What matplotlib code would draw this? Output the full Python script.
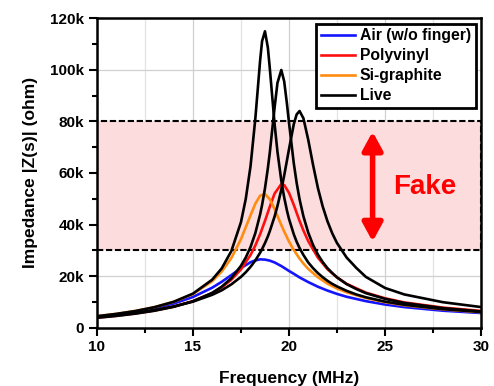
import matplotlib
matplotlib.use("Agg")
import matplotlib.pyplot as plt
from matplotlib.ticker import MultipleLocator, FuncFormatter

plt.rcParams["font.family"] = ["Liberation Sans", "DejaVu Sans"]
plt.rcParams["font.weight"] = "bold"

# frequency in MHz, impedance in k-ohm
freq = [10, 11, 12, 13, 14, 15, 16, 16.5, 17, 17.5, 18, 18.25, 18.5, 18.75,
        19, 19.25, 19.6, 19.75, 20, 20.25, 20.55, 20.75, 21, 21.5, 22, 22.5,
        23, 24, 25, 26, 28, 30]

air = [4.30, 5.14, 6.19, 7.55, 9.36, 11.9, 15.5, 17.8, 20.4, 23.1, 25.4, 26.1,
       26.5, 26.4, 26.0, 25.3, 23.9, 23.2, 22.0, 20.9, 19.5, 18.7, 17.7, 15.9,
       14.4, 13.1, 12.0, 10.3, 9.0, 8.0, 6.6, 5.7]
polyvinyl = [3.90, 4.63, 5.52, 6.66, 8.16, 10.3, 13.4, 15.6, 18.6, 22.6, 28.2,
             31.9, 36.3, 41.4, 46.9, 52.0, 55.7, 55.3, 52.3, 47.6, 41.4, 37.7,
             33.6, 27.2, 22.7, 19.5, 17.0, 13.6, 11.4, 9.8, 7.8, 6.5]
si_graphite = [4.46, 5.35, 6.47, 7.96, 10.0, 13.05, 18.0, 21.8, 27.0, 34.3,
               43.6, 48.1, 51.2, 51.8, 49.8, 46.0, 39.8, 37.3, 33.4, 30.1, 26.8,
               24.9, 22.8, 19.6, 17.1, 15.2, 13.7, 11.5, 9.9, 8.7, 7.1, 6.0]

# the live-finger peaks are sharp, so they are read at more frequencies
freq_live = [10, 11, 12, 13, 14, 15, 16, 16.5, 17, 17.5, 17.75, 18, 18.25,
             18.5, 18.6, 18.75, 18.9, 19, 19.25, 19.4, 19.6, 19.75, 19.9, 20,
             20.25, 20.4, 20.55, 20.75, 21, 21.25, 21.5, 21.75, 22, 22.25, 22.5,
             23, 23.5, 24, 25, 26, 28, 30]
live_1 = [4.45, 5.34, 6.46, 7.96, 10.05, 13.2, 18.6, 23.0, 29.7, 40.9, 49.9,
          62.7, 81.2, 103.8, 111.1, 114.9, 108.6, 100.7, 79.0, 68.2, 57.0, 50.5,
          45.2, 42.2, 36.2, 33.3, 30.9, 28.2, 25.3, 23.1, 21.2, 19.6, 18.2,
          17.0, 16.0, 14.3, 12.9, 11.8, 10.1, 8.9, 7.2, 6.1]
live_2 = [3.84, 4.56, 5.45, 6.58, 8.10, 10.25, 13.5, 15.9, 19.2, 24.0, 27.2,
          31.3, 36.7, 44.0, 47.6, 54.0, 61.8, 67.8, 85.3, 94.9, 99.9, 95.5,
          86.4, 79.5, 63.7, 56.1, 49.8, 43.2, 36.9, 32.1, 28.4, 25.5, 23.1,
          21.2, 19.5, 16.9, 15.0, 13.4, 11.2, 9.6, 7.6, 6.3]
live_3 = [4.15, 4.88, 5.76, 6.85, 8.25, 10.1, 12.75, 14.5, 16.8, 19.7, 21.5,
          23.6, 26.1, 29.1, 30.5, 32.8, 35.4, 37.4, 43.1, 47.2, 53.5, 59.0,
          65.1, 69.2, 78.9, 82.7, 84.0, 81.2, 72.9, 63.2, 54.3, 47.1, 41.3,
          36.6, 32.8, 27.2, 23.2, 19.7, 15.4, 12.9, 9.9, 8.0]

fake_band = (30, 80)

fig = plt.figure(figsize=(4.94, 3.86), dpi=100)
ax = fig.add_axes([0.196, 0.151, 0.778, 0.802])

ax.axhspan(*fake_band, facecolor="#fcdcdd", edgecolor="black",
           linestyle=(0, (3, 1.3)), linewidth=1.5, zorder=1)

lw = 1.9
ax.plot(freq, air, color="#1414ff", lw=lw, label="Air (w/o finger)", zorder=3)
ax.plot(freq, polyvinyl, color="#ff1010", lw=lw, label="Polyvinyl", zorder=3)
ax.plot(freq, si_graphite, color="#ff8c10", lw=lw, label="Si-graphite", zorder=3)
ax.plot(freq_live, live_1, color="black", lw=lw, label="Live", zorder=4)
ax.plot(freq_live, live_2, color="black", lw=lw, zorder=4)
ax.plot(freq_live, live_3, color="black", lw=lw, zorder=4)

ax.annotate("", xy=(24.35, 76), xytext=(24.35, 33.4),
            arrowprops=dict(arrowstyle="<|-|>,head_length=0.55,head_width=0.3",
                            color="#ff0000", lw=4, mutation_scale=20,
                            shrinkA=0, shrinkB=0), zorder=5)
ax.text(27.05, 54.6, "Fake", color="#ff0000", fontsize=20, fontweight="bold",
        ha="center", va="center", zorder=5)

ax.set_xlim(10, 30)
ax.set_ylim(0, 120)
ax.xaxis.set_major_locator(MultipleLocator(5))
ax.xaxis.set_minor_locator(MultipleLocator(2.5))
ax.yaxis.set_major_locator(MultipleLocator(20))
ax.yaxis.set_minor_locator(MultipleLocator(10))
ax.yaxis.set_major_formatter(FuncFormatter(lambda v, p: "0" if v == 0 else f"{v:.0f}k"))

ax.grid(which="major", color="#d0d0d0", lw=0.9, zorder=0)
ax.grid(which="minor", axis="x", color="#e4e4e4", lw=0.9, zorder=0)
ax.set_axisbelow(True)

ax.tick_params(which="major", direction="out", length=6, width=1.5,
               labelsize=11, pad=3)
ax.tick_params(which="minor", direction="out", length=3.5, width=1.5)
for s in ax.spines.values():
    s.set_linewidth(1.8)
    s.set_zorder(6)

ax.set_xlabel("Frequency (MHz)", fontsize=12.5, fontweight="bold", labelpad=12)
ax.set_ylabel("Impedance |Z(s)| (ohm)", fontsize=12.5, fontweight="bold", labelpad=9)

leg = ax.legend(loc="upper right", fontsize=11.3, frameon=True, fancybox=False,
                borderpad=0.3, labelspacing=0.32, handlelength=2.2,
                handletextpad=0.3, borderaxespad=0.35)
leg.get_frame().set_edgecolor("black")
leg.get_frame().set_linewidth(2)
leg.get_frame().set_alpha(1)
leg.set_zorder(7)

fig.savefig("out.png", dpi=100)
